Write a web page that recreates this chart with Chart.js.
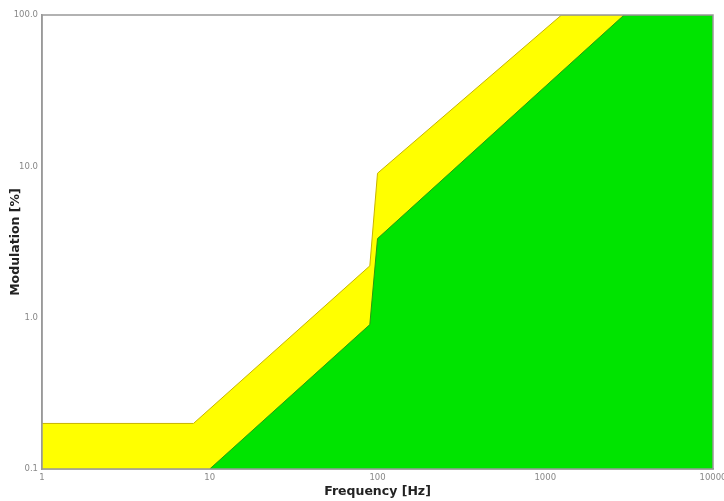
<!DOCTYPE html>
<html><head><meta charset="utf-8">
<script src="https://cdn.jsdelivr.net/npm/chart.js@4"></script>
<style>html,body{margin:0;padding:0;background:#fff}#w{width:724px;height:501px}</style>
</head><body><div id="w"><canvas id="c" width="724" height="501"></canvas></div>
<script>
// Low-risk (yellow) boundary: frequency [Hz] and modulation [%]
const lowRiskFreq = [1, 8, 90, 100, 1250, 10000];
const lowRiskMod  = [0.2, 0.2, 2.2, 9, 100, 100];
// No-effect (green) boundary
const noEffectFreq = [10, 90, 100, 2950, 10000];
const noEffectMod  = [0.1, 0.9, 3.33, 100, 100];
const xTicks = [1, 10, 100, 1000, 10000];
const yTicks = [0.1, 1, 10, 100];

const pts = (xs, ys) => xs.map((x, i) => ({x: x, y: ys[i]}));

const frame = {
  id: 'frame',
  afterDatasetsDraw(chart) {
    const a = chart.chartArea, ctx = chart.ctx;
    ctx.save();
    ctx.strokeStyle = '#999';
    ctx.lineWidth = 1.5;
    ctx.strokeRect(a.left, a.top, a.right - a.left, a.bottom - a.top);
    ctx.restore();
  }
};

new Chart(document.getElementById('c'), {
  type: 'line',
  data: {
    datasets: [
      {
        label: 'No effect',
        data: pts(noEffectFreq, noEffectMod),
        backgroundColor: '#00e400',
        borderColor: '#2a9a10',
        borderWidth: 1,
        fill: 'start',
        pointRadius: 0,
        tension: 0,
        order: 1
      },
      {
        label: 'Low risk',
        data: pts(lowRiskFreq, lowRiskMod),
        backgroundColor: '#ffff00',
        borderColor: '#c8b400',
        borderWidth: 1,
        fill: 'start',
        pointRadius: 0,
        tension: 0,
        order: 2
      }
    ]
  },
  options: {
    responsive: false,
    animation: false,
    layout: {padding: {top: 15, right: 11, left: 0, bottom: 0}},
    plugins: {legend: {display: false}, tooltip: {enabled: false}},
    scales: {
      x: {
        type: 'logarithmic',
        min: 1, max: 10000,
        grid: {display: false, drawTicks: false},
        border: {display: true, color: '#999', width: 1.5},
        afterBuildTicks: s => { s.ticks = xTicks.map(v => ({value: v})); },
        afterFit: s => { s.height = 32; s.paddingLeft = 0; s.paddingRight = 0; },
        ticks: {
          color: '#888', font: {family: 'DejaVu Sans', size: 8.5}, padding: 4,
          maxRotation: 0, autoSkip: false,
          callback: v => String(v)
        },
        title: {
          display: true, text: 'Frequency [Hz]', color: '#222',
          font: {family: 'DejaVu Sans', size: 12.5, weight: 'bold'}, padding: {top: 2, bottom: 2}
        }
      },
      y: {
        type: 'logarithmic',
        min: 0.1, max: 100,
        grid: {display: false, drawTicks: false},
        border: {display: true, color: '#999', width: 1.5},
        afterBuildTicks: s => { s.ticks = yTicks.map(v => ({value: v})); },
        afterFit: s => { s.width = 42; s.paddingTop = 0; s.paddingBottom = 0; },
        ticks: {
          color: '#888', font: {family: 'DejaVu Sans', size: 8.5}, padding: 4,
          autoSkip: false,
          callback: v => Number(v).toFixed(1)
        },
        title: {
          display: true, text: 'Modulation [%]', color: '#222',
          font: {family: 'DejaVu Sans', size: 12.5, weight: 'bold'}, padding: {top: 8, bottom: 8}
        }
      }
    }
  },
  plugins: [frame]
});
</script>
</body></html>
